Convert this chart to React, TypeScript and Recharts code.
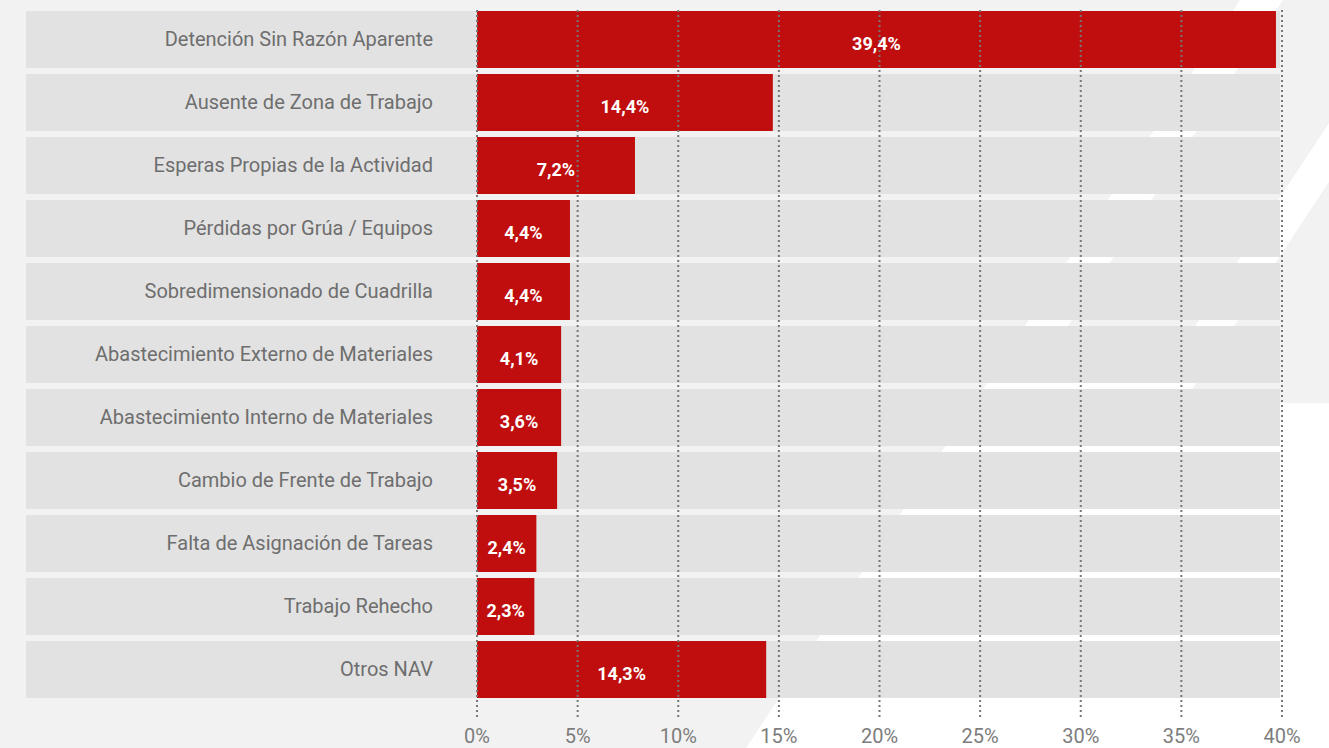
import React from 'react';
import { BarChart, Bar, XAxis, YAxis, ReferenceLine, LabelList } from 'recharts';

// Categorías de pérdidas (de arriba hacia abajo)
const categorias = [
  'Detención Sin Razón Aparente',
  'Ausente de Zona de Trabajo',
  'Esperas Propias de la Actividad',
  'Pérdidas por Grúa / Equipos',
  'Sobredimensionado de Cuadrilla',
  'Abastecimiento Externo de Materiales',
  'Abastecimiento Interno de Materiales',
  'Cambio de Frente de Trabajo',
  'Falta de Asignación de Tareas',
  'Trabajo Rehecho',
  'Otros NAV',
];

// largo de cada barra leído sobre la escala (%)
const longitudes = [39.7, 14.7, 7.85, 4.62, 4.62, 4.18, 4.18, 3.98, 2.95, 2.85, 14.37];

// texto impreso sobre cada barra
const etiquetas = ['39,4%', '14,4%', '7,2%', '4,4%', '4,4%', '4,1%', '3,6%', '3,5%', '2,4%', '2,3%', '14,3%'];

const ticksX = [0, 5, 10, 15, 20, 25, 30, 35, 40];

const ANCHO_EJE_Y = 451;

const data = categorias.map((nombre, i) => ({
  nombre,
  valor: longitudes[i],
  etiqueta: etiquetas[i],
}));

// banda gris detrás de cada fila, se extiende bajo el texto de la categoría
const bandaFondo = (props: any) => (
  <rect
    key={`banda-${props.index}`}
    x={props.x - ANCHO_EJE_Y}
    y={props.y}
    width={props.width + ANCHO_EJE_Y - 2}
    height={props.height}
    fill="#e2e2e2"
  />
);

const etiquetaValor = (props: any) => {
  const { x, y, width, height, value } = props;
  return (
    <text
      x={Number(x) + Number(width) / 2}
      y={Number(y) + Number(height) / 2 + 4}
      fill="#ffffff"
      fontSize={18}
      fontWeight={700}
      textAnchor="middle"
      dominantBaseline="central"
    >
      {value}
    </text>
  );
};

const tickCategoria = (props: any) => {
  const { x, y, payload } = props;
  return (
    <text
      x={x}
      y={y}
      dy="0.3em"
      textAnchor="end"
      fill="#6e6e6e"
      fontSize={20}
    >
      {payload.value}
    </text>
  );
};

export default function App() {
  return (
    <div
      style={{
        position: 'absolute',
        left: 0,
        top: 0,
        width: 1329,
        height: 748,
        overflow: 'hidden',
        background: '#f2f2f2',
        fontFamily: 'Roboto, sans-serif',
      }}
    >
      {/* franjas diagonales decorativas del fondo */}
      <svg
        width={1329}
        height={748}
        style={{ position: 'absolute', left: 0, top: 0 }}
      >
        <polygon points="1240,0 1329,0 1329,748 746,748" fill="#ffffff" />
        <polygon points="1283,0 1410,0 1176,355 1049,355" fill="#f2f2f2" />
        <polygon points="1449,0 1700,0 1700,403 1183,403" fill="#f2f2f2" />
      </svg>

      <div style={{ position: 'absolute', left: 0, top: 0 }}>
        <BarChart
          width={1329}
          height={748}
          data={data}
          layout="vertical"
          margin={{ top: 8, right: 47, bottom: 0, left: 26 }}
        >
          <XAxis
            type="number"
            domain={[0, 40]}
            ticks={ticksX}
            tickFormatter={(v) => `${v}%`}
            axisLine={false}
            tickLine={false}
            tickSize={0}
            tickMargin={12}
            height={31}
            tick={{ fill: '#7d7d7d', fontSize: 20 }}
          />
          <YAxis
            type="category"
            dataKey="nombre"
            width={ANCHO_EJE_Y}
            axisLine={false}
            tickLine={false}
            tickSize={0}
            tickMargin={44}
            interval={0}
            padding={{ top: 0, bottom: 16 }}
            tick={tickCategoria}
          />
          <Bar
            dataKey="valor"
            fill="#c00e0e"
            barSize={57}
            background={bandaFondo}
            isAnimationActive={false}
          >
            <LabelList dataKey="etiqueta" content={etiquetaValor} />
          </Bar>
          {ticksX.map((t) => (
            <ReferenceLine
              key={t}
              x={t}
              stroke="#777777"
              strokeWidth={2}
              strokeDasharray="2 3"
            />
          ))}
        </BarChart>
      </div>
    </div>
  );
}
